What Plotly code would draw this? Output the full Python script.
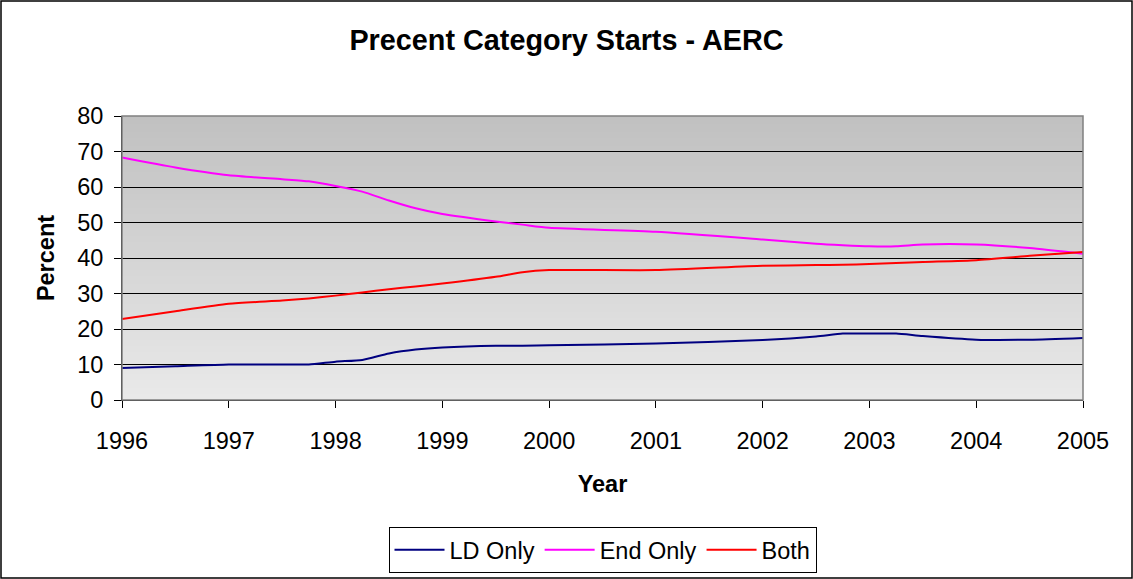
import plotly.graph_objects as go

# Season points (fractional years) and percent of starts per category
years = [1996, 1996.5, 1997, 1997.5, 1997.75, 1998, 1998.25, 1998.5, 1998.75,
         1999, 1999.5, 1999.75, 2000, 2001, 2002, 2002.5, 2002.75, 2003,
         2003.25, 2003.5, 2004, 2004.5, 2005]
ld_only = [9.0, 9.5, 10.0, 10.0, 10.0, 10.8, 11.3, 13.1, 14.2,
           14.8, 15.3, 15.3, 15.4, 15.9, 16.9, 17.9, 18.7, 18.7,
           18.7, 18.0, 17.0, 17.0, 17.5]
end_only = [68.3, 65.5, 63.3, 62.2, 61.6, 60.3, 58.7, 56.2, 54.0,
            52.4, 50.3, 49.4, 48.5, 47.4, 45.2, 44.0, 43.6, 43.3,
            43.3, 43.8, 43.8, 42.8, 41.2]
both = [22.8, 25.0, 27.1, 28.0, 28.6, 29.4, 30.3, 31.2, 32.0,
        32.8, 34.7, 36.0, 36.6, 36.6, 37.8, 38.0, 38.1, 38.3,
        38.6, 38.9, 39.4, 40.6, 41.7]

year_ticks = list(range(1996, 2006))
pct_ticks = list(range(0, 90, 10))

FONT = "Liberation Sans, Arial, sans-serif"
FS = 23.5
W, H = 1133, 579
ML, MR, MT, MB = 122, 50, 116, 179
PW, PH = W - ML - MR, H - MT - MB

# Vertical grey gradient behind the grid, built from overlapping thin bands
# (each band is drawn from the bottom up to its own top, so no seams show)
bands = []
n_bands = 142
y_lo, y_hi = pct_ticks[0], pct_ticks[-1]
top_grey, bottom_grey = 192, 233
for i in range(n_bands):
    t = (i + 0.5) / n_bands          # 0 at bottom, 1 at top
    g = round(bottom_grey + (top_grey - bottom_grey) * t)
    y1 = y_lo + (y_hi - y_lo) * (i + 1) / n_bands
    bands.append(dict(type="rect", xref="paper", yref="y",
                      x0=0, x1=1, y0=y1, y1=y_hi, layer="below",
                      fillcolor=f"rgb({g},{g},{g})", line=dict(width=0)))
bands.insert(0, dict(type="rect", xref="paper", yref="y", x0=0, x1=1,
                     y0=y_lo, y1=y_hi, layer="below",
                     fillcolor=f"rgb({bottom_grey},{bottom_grey},{bottom_grey})",
                     line=dict(width=0)))

fig = go.Figure()

series = [("LD Only", ld_only, "#000080"),
          ("End Only", end_only, "#ff00ff"),
          ("Both", both, "#ff0000")]
for name, vals, color in series:
    fig.add_trace(go.Scatter(
        x=years, y=vals, name=name, mode="lines",
        line=dict(color=color, width=2, shape="spline", smoothing=0.6),
    ))

fig.update_layout(
    width=W, height=H,
    margin=dict(l=ML, r=MR, t=MT, b=MB, autoexpand=False),
    paper_bgcolor="white", plot_bgcolor="rgba(0,0,0,0)",
    font=dict(family=FONT, size=FS, color="black"),
    title=dict(text="<b>Precent Category Starts - AERC</b>",
               x=0.5, xanchor="center", y=1 - 40 / H, yanchor="middle",
               font=dict(size=28.8, family=FONT)),
    xaxis=dict(range=[year_ticks[0], year_ticks[-1]], tickvals=year_ticks,
               ticks="outside", ticklen=7, tickcolor="black",
               ticklabelstandoff=13,
               showline=True, linecolor="black", linewidth=1,
               showgrid=False, zeroline=False,
               title=dict(text="<b>Year</b>", standoff=22,
                          font=dict(size=FS))),
    yaxis=dict(range=[y_lo, y_hi], tickvals=pct_ticks,
               ticks="outside", ticklen=7, tickcolor="black",
               ticklabelstandoff=6,
               showline=True, linecolor="black", linewidth=1,
               showgrid=True, gridcolor="black", gridwidth=1,
               zeroline=False,
               title=dict(text="<b>Percent</b>", standoff=15,
                          font=dict(size=FS))),
    legend=dict(orientation="h", x=0.5, xanchor="center",
                y=-(527 - 400) / PH, yanchor="top",
                bordercolor="black", borderwidth=1, bgcolor="white",
                font=dict(size=FS), itemwidth=50),
    shapes=bands + [
        # grey frame on top/right of the plot area
        dict(type="rect", xref="paper", yref="paper", x0=0, x1=1, y0=0, y1=1,
             line=dict(color="#808080", width=1.5)),
        # outer chart border
        dict(type="rect", xref="paper", yref="paper",
             x0=-(ML - 1) / PW, x1=1 + (MR - 1) / PW,
             y0=-(MB - 1) / PH, y1=1 + (MT - 1) / PH,
             line=dict(color="black", width=1.5)),
    ],
)

fig.write_html("out.html")
